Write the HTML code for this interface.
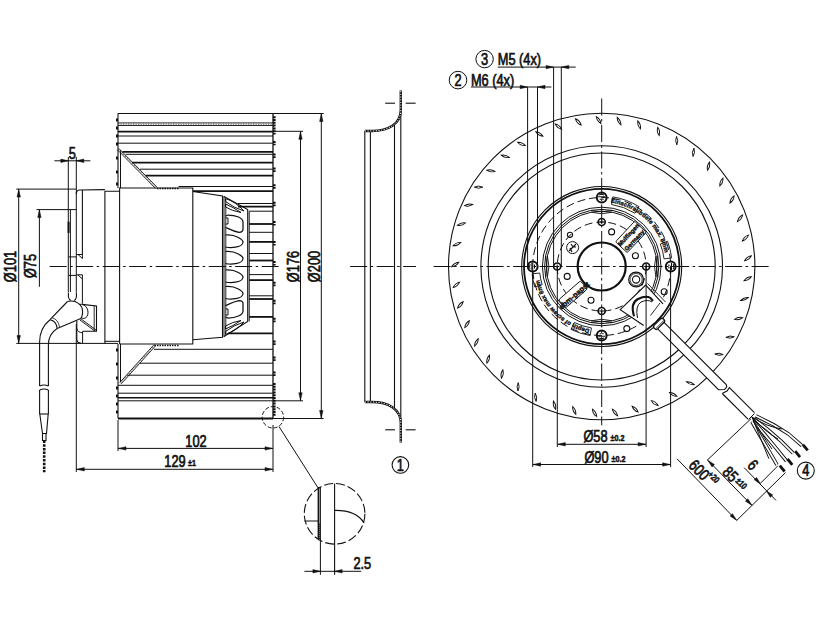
<!DOCTYPE html>
<html><head><meta charset="utf-8"><style>
html,body{margin:0;padding:0;background:#fff;}
svg{display:block;}
text{font-family:"Liberation Sans",sans-serif;fill:#111;}
</style></head><body>
<svg width="816" height="624" viewBox="0 0 816 624">
<rect width="816" height="624" fill="#fff"/>
<line x1="49.70" y1="266.50" x2="282.00" y2="266.50" stroke="#111" stroke-width="1.0" stroke-dasharray="17 3.5 2.5 3.5"/>
<line x1="118.00" y1="113.50" x2="273.00" y2="113.50" stroke="#111" stroke-width="1.1"/>
<line x1="118.00" y1="418.50" x2="273.00" y2="418.50" stroke="#111" stroke-width="1.8"/>
<line x1="118.00" y1="113.50" x2="118.00" y2="188.00" stroke="#111" stroke-width="1.1"/>
<line x1="118.00" y1="344.00" x2="118.00" y2="418.50" stroke="#111" stroke-width="1.1"/>
<line x1="273.00" y1="113.50" x2="273.00" y2="418.50" stroke="#111" stroke-width="1.3"/>
<line x1="118.00" y1="125.50" x2="273.00" y2="125.50" stroke="#111" stroke-width="0.9"/>
<line x1="118.00" y1="122.90" x2="273.00" y2="122.90" stroke="#111" stroke-width="0.9"/>
<line x1="118.00" y1="124.20" x2="273.00" y2="124.20" stroke="#555" stroke-width="1.0" stroke-dasharray="1.2 1.3"/>
<line x1="118.00" y1="131.70" x2="273.00" y2="131.70" stroke="#111" stroke-width="1.8"/>
<line x1="118.00" y1="136.00" x2="273.00" y2="136.00" stroke="#111" stroke-width="1"/>
<line x1="118.00" y1="143.20" x2="273.00" y2="143.20" stroke="#111" stroke-width="1"/>
<line x1="122.40" y1="151.90" x2="273.00" y2="151.90" stroke="#111" stroke-width="1.8"/>
<line x1="125.60" y1="154.30" x2="273.00" y2="154.30" stroke="#111" stroke-width="1"/>
<line x1="132.00" y1="162.70" x2="273.00" y2="162.70" stroke="#111" stroke-width="1.8"/>
<line x1="140.00" y1="169.20" x2="273.00" y2="169.20" stroke="#111" stroke-width="1"/>
<line x1="145.70" y1="175.70" x2="273.00" y2="175.70" stroke="#111" stroke-width="1.8"/>
<line x1="178.50" y1="186.50" x2="273.00" y2="186.50" stroke="#111" stroke-width="1"/>
<line x1="193.00" y1="191.10" x2="273.00" y2="191.10" stroke="#111" stroke-width="1.8"/>
<line x1="238.00" y1="203.50" x2="273.00" y2="203.50" stroke="#111" stroke-width="1"/>
<line x1="238.00" y1="206.70" x2="273.00" y2="206.70" stroke="#111" stroke-width="1.8"/>
<line x1="249.20" y1="211.20" x2="273.00" y2="211.20" stroke="#111" stroke-width="1"/>
<line x1="249.20" y1="224.00" x2="273.00" y2="224.00" stroke="#111" stroke-width="1.8"/>
<line x1="249.20" y1="232.30" x2="273.00" y2="232.30" stroke="#111" stroke-width="1"/>
<line x1="249.20" y1="241.90" x2="273.00" y2="241.90" stroke="#111" stroke-width="1.8"/>
<line x1="249.20" y1="253.50" x2="273.00" y2="253.50" stroke="#111" stroke-width="1"/>
<line x1="249.20" y1="260.50" x2="273.00" y2="260.50" stroke="#111" stroke-width="1.8"/>
<line x1="249.20" y1="274.60" x2="273.00" y2="274.60" stroke="#111" stroke-width="1"/>
<line x1="249.20" y1="280.10" x2="273.00" y2="280.10" stroke="#111" stroke-width="1.8"/>
<line x1="249.20" y1="295.80" x2="273.00" y2="295.80" stroke="#111" stroke-width="1"/>
<line x1="249.20" y1="299.00" x2="273.00" y2="299.00" stroke="#111" stroke-width="1.8"/>
<line x1="249.20" y1="316.90" x2="273.00" y2="316.90" stroke="#111" stroke-width="1.8"/>
<line x1="228.00" y1="333.30" x2="273.00" y2="333.30" stroke="#111" stroke-width="1.8"/>
<line x1="154.00" y1="349.30" x2="273.00" y2="349.30" stroke="#111" stroke-width="1"/>
<line x1="140.00" y1="363.20" x2="273.00" y2="363.20" stroke="#111" stroke-width="1"/>
<line x1="127.00" y1="375.20" x2="273.00" y2="375.20" stroke="#111" stroke-width="1"/>
<line x1="118.00" y1="385.30" x2="273.00" y2="385.30" stroke="#111" stroke-width="1"/>
<line x1="118.00" y1="393.20" x2="273.00" y2="393.20" stroke="#111" stroke-width="1"/>
<line x1="118.00" y1="397.70" x2="273.00" y2="397.70" stroke="#111" stroke-width="1.5"/>
<line x1="118.00" y1="400.80" x2="273.00" y2="400.80" stroke="#111" stroke-width="1"/>
<line x1="120.50" y1="150.00" x2="120.50" y2="188.00" stroke="#111" stroke-width="1"/>
<line x1="120.50" y1="344.00" x2="120.50" y2="382.00" stroke="#111" stroke-width="1"/>
<line x1="117.32" y1="149.67" x2="155.62" y2="188.47" stroke="#111" stroke-width="0.9"/>
<line x1="118.68" y1="148.33" x2="156.98" y2="187.13" stroke="#111" stroke-width="0.9"/>
<line x1="118.00" y1="149.00" x2="156.30" y2="187.80" stroke="#555" stroke-width="1.0" stroke-dasharray="1.2 1.3"/>
<line x1="121.21" y1="383.84" x2="155.51" y2="345.84" stroke="#111" stroke-width="0.9"/>
<line x1="119.79" y1="382.56" x2="154.09" y2="344.56" stroke="#111" stroke-width="0.9"/>
<line x1="120.50" y1="383.20" x2="154.80" y2="345.20" stroke="#555" stroke-width="1.0" stroke-dasharray="1.2 1.3"/>
<line x1="157.00" y1="188.50" x2="178.50" y2="188.50" stroke="#111" stroke-width="1.5" stroke-dasharray="1.5 1"/>
<line x1="154.50" y1="345.50" x2="178.50" y2="345.50" stroke="#111" stroke-width="1.5" stroke-dasharray="1.5 1"/>
<line x1="274.30" y1="140.90" x2="274.30" y2="145.30" stroke="#111" stroke-width="2.6" stroke-dasharray="2 0.8"/>
<line x1="274.30" y1="153.50" x2="274.30" y2="157.90" stroke="#111" stroke-width="2.6" stroke-dasharray="2 0.8"/>
<line x1="274.30" y1="167.50" x2="274.30" y2="171.90" stroke="#111" stroke-width="2.6" stroke-dasharray="2 0.8"/>
<line x1="274.30" y1="184.30" x2="274.30" y2="188.70" stroke="#111" stroke-width="2.6" stroke-dasharray="2 0.8"/>
<line x1="274.30" y1="201.80" x2="274.30" y2="206.20" stroke="#111" stroke-width="2.6" stroke-dasharray="2 0.8"/>
<line x1="274.30" y1="221.10" x2="274.30" y2="225.50" stroke="#111" stroke-width="2.6" stroke-dasharray="2 0.8"/>
<line x1="274.30" y1="241.10" x2="274.30" y2="245.50" stroke="#111" stroke-width="2.6" stroke-dasharray="2 0.8"/>
<line x1="274.30" y1="261.10" x2="274.30" y2="265.50" stroke="#111" stroke-width="2.6" stroke-dasharray="2 0.8"/>
<line x1="274.30" y1="281.80" x2="274.30" y2="286.20" stroke="#111" stroke-width="2.6" stroke-dasharray="2 0.8"/>
<line x1="274.30" y1="299.80" x2="274.30" y2="304.20" stroke="#111" stroke-width="2.6" stroke-dasharray="2 0.8"/>
<line x1="274.30" y1="317.80" x2="274.30" y2="322.20" stroke="#111" stroke-width="2.6" stroke-dasharray="2 0.8"/>
<line x1="274.30" y1="340.50" x2="274.30" y2="344.90" stroke="#111" stroke-width="2.6" stroke-dasharray="2 0.8"/>
<line x1="274.30" y1="356.50" x2="274.30" y2="360.90" stroke="#111" stroke-width="2.6" stroke-dasharray="2 0.8"/>
<line x1="274.30" y1="371.50" x2="274.30" y2="375.90" stroke="#111" stroke-width="2.6" stroke-dasharray="2 0.8"/>
<line x1="274.30" y1="116.20" x2="274.30" y2="134.60" stroke="#111" stroke-width="2.6" stroke-dasharray="2 0.8"/>
<line x1="274.30" y1="383.00" x2="274.30" y2="416.40" stroke="#111" stroke-width="2.6" stroke-dasharray="2 0.8"/>
<rect x="116" y="118.5" width="2" height="3" fill="#111"/>
<rect x="116" y="126.5" width="2" height="3" fill="#111"/>
<rect x="116" y="134.5" width="2" height="3" fill="#111"/>
<rect x="116" y="142.5" width="2" height="3" fill="#111"/>
<rect x="116" y="156.5" width="2" height="3" fill="#111"/>
<rect x="116" y="170.5" width="2" height="3" fill="#111"/>
<rect x="116" y="182.5" width="2" height="3" fill="#111"/>
<rect x="116" y="348.5" width="2" height="3" fill="#111"/>
<rect x="116" y="362.5" width="2" height="3" fill="#111"/>
<rect x="116" y="376.5" width="2" height="3" fill="#111"/>
<rect x="116" y="386.5" width="2" height="3" fill="#111"/>
<rect x="116" y="394.5" width="2" height="3" fill="#111"/>
<rect x="116" y="402.5" width="2" height="3" fill="#111"/>
<rect x="116" y="410.5" width="2" height="3" fill="#111"/>
<polyline points="119.60,344.00 119.60,188.00 192.80,188.00 192.80,344.00 119.60,344.00" fill="none" stroke="#111" stroke-width="1.1"/>
<polyline points="104.90,343.40 104.90,191.20 119.60,191.20" fill="none" stroke="#111" stroke-width="1.1"/>
<line x1="104.90" y1="341.30" x2="119.60" y2="341.30" stroke="#111" stroke-width="1"/>
<polyline points="192.80,191.50 222.50,196.00 222.50,337.30 192.80,339.70" fill="none" stroke="#111" stroke-width="1.1"/>
<line x1="224.00" y1="196.00" x2="224.00" y2="337.00" stroke="#111" stroke-width="1"/>
<polyline points="224.00,196.40 247.70,209.60 247.70,321.40 224.00,336.50" fill="none" stroke="#111" stroke-width="1.1"/>
<line x1="249.20" y1="211.20" x2="249.20" y2="321.40" stroke="#111" stroke-width="1"/>
<path d="M225.5,216 L228,215 C236,215 243,218 243,222 L243,229.3 Q243,232.3 239,232.3 C233,231.3 228,228.3 225.5,227.3" fill="none" stroke="#111" stroke-width="1.25" />
<path d="M225.5,218 L228,218 L228,224 L225.5,224" fill="none" stroke="#111" stroke-width="1" />
<path d="M225.5,235.0 C236,234.0 243.5,240.0 243,242.5 C242,248.0 230,248.0 225.5,247.0" fill="none" stroke="#111" stroke-width="1.25" />
<path d="M225.5,251.5 C236,250.5 243.5,256.5 243,259.0 C242,264.5 230,264.5 225.5,263.5" fill="none" stroke="#111" stroke-width="1.25" />
<path d="M225.5,270.0 C236,269.0 243.5,275.0 243,277.5 C242,283.0 230,283.0 225.5,282.0" fill="none" stroke="#111" stroke-width="1.25" />
<path d="M225.5,286.5 C236,285.5 243.5,291.5 243,294.0 C242,299.5 230,299.5 225.5,298.5" fill="none" stroke="#111" stroke-width="1.25" />
<path d="M225.5,317 L228,318 C236,318 243,315 243,311 L243,303.7 Q243,300.7 239,300.7 C233,301.7 228,304.7 225.5,305.7" fill="none" stroke="#111" stroke-width="1.25" />
<path d="M225.5,315 L228,315 L228,309 L225.5,309" fill="none" stroke="#111" stroke-width="1" />
<line x1="225.80" y1="199.00" x2="225.80" y2="334.00" stroke="#111" stroke-width="0.9"/>
<path d="M225.5,198.5 Q236,202 244,211 Q234,208 225.5,201.5 Z" fill="none" stroke="#111" stroke-width="1.0" />
<path d="M225.5,204 Q233,207 241,212.5 Q232,211 225.5,207 Z" fill="none" stroke="#111" stroke-width="1.0" />
<path d="M225.5,334.5 Q236,331 244,322 Q234,325 225.5,331.5 Z" fill="none" stroke="#111" stroke-width="1.0" />
<path d="M225.5,329 Q233,326 241,320.5 Q232,322 225.5,326 Z" fill="none" stroke="#111" stroke-width="1.0" />
<line x1="68.30" y1="157.00" x2="68.30" y2="292.00" stroke="#111" stroke-width="1"/>
<line x1="76.30" y1="157.00" x2="76.30" y2="292.40" stroke="#111" stroke-width="1"/>
<line x1="76.30" y1="324.00" x2="76.30" y2="472.00" stroke="#111" stroke-width="1"/>
<line x1="70.40" y1="209.60" x2="70.40" y2="292.00" stroke="#111" stroke-width="1"/>
<line x1="68.60" y1="221.70" x2="68.60" y2="232.90" stroke="#111" stroke-width="2"/>
<path d="M76.3,194 Q76.3,190 80,190 L104.9,189.6" fill="none" stroke="#111" stroke-width="1.2" />
<line x1="82.40" y1="190.00" x2="82.40" y2="254.50" stroke="#111" stroke-width="1.1"/>
<polyline points="76.30,254.50 82.40,254.50 82.40,258.50" fill="none" stroke="#111" stroke-width="1"/>
<line x1="68.30" y1="256.90" x2="76.30" y2="256.90" stroke="#111" stroke-width="1"/>
<line x1="68.30" y1="275.40" x2="76.30" y2="275.40" stroke="#111" stroke-width="1"/>
<polyline points="76.30,274.80 82.40,274.80 82.40,303.70" fill="none" stroke="#111" stroke-width="1"/>
<polyline points="82.40,279.00 78.00,275.00" fill="none" stroke="#111" stroke-width="1"/>
<polyline points="82.40,258.50 78.00,254.50" fill="none" stroke="#111" stroke-width="1"/>
<polyline points="82.00,304.40 96.50,305.90 96.50,331.30 82.60,331.30" fill="none" stroke="#111" stroke-width="1.1"/>
<line x1="94.20" y1="306.00" x2="94.20" y2="331.30" stroke="#111" stroke-width="0.9"/>
<line x1="80.03" y1="320.15" x2="95.03" y2="331.15" stroke="#111" stroke-width="0.9"/>
<line x1="80.97" y1="318.85" x2="95.97" y2="329.85" stroke="#111" stroke-width="0.9"/>
<line x1="80.50" y1="319.50" x2="95.50" y2="330.50" stroke="#555" stroke-width="1.0" stroke-dasharray="1.2 1.3"/>
<path d="M76.8,321 L76.8,339 Q76.8,343 81,343.2" fill="none" stroke="#111" stroke-width="1.1" />
<path d="M76.8,328.5 Q77.5,332.5 82.6,332.8" fill="none" stroke="#111" stroke-width="1.0" />
<line x1="82.60" y1="331.30" x2="82.60" y2="343.20" stroke="#111" stroke-width="1.0"/>
<path d="M68.4,292.4 L68.4,297 Q69,300 71,300.5 M76.4,292.4 L76.4,297 Q76,300 74,300.5" fill="none" stroke="#111" stroke-width="1.1" />
<path d="M67.5,301.5 L50,319.7 M80.2,318.8 L57.2,328.5" fill="none" stroke="#111" stroke-width="1.1" />
<path d="M67.5,301.5 C76,299.5 83,305 82.6,312 C82.4,316 81.5,318 80.2,318.8" fill="none" stroke="#111" stroke-width="1.1" />
<path d="M79.2,304.4 C86,303 90,311 87,316.5 C85.5,318.5 83,318.8 81.5,318" fill="none" stroke="#111" stroke-width="1.0" />
<path d="M50,319.7 Q56.5,321 57.2,328.5" fill="none" stroke="#111" stroke-width="1.1" />
<path d="M52,317.7 Q58.5,319.5 59.5,327.3" fill="none" stroke="#111" stroke-width="0.8" />
<path d="M50,319.7 Q39.6,328 39.6,342 L39.6,386" fill="none" stroke="#111" stroke-width="1.1" />
<path d="M57.2,328.5 Q48.4,334 48.4,345 L48.4,386" fill="none" stroke="#111" stroke-width="1.1" />
<path d="M39.6,386 Q44,384 48.4,386 M39.6,390 Q44,388 48.4,390" fill="none" stroke="#111" stroke-width="1.1" />
<line x1="39.60" y1="390.00" x2="39.60" y2="414.00" stroke="#111" stroke-width="1.1"/>
<line x1="48.40" y1="390.00" x2="48.40" y2="414.00" stroke="#111" stroke-width="1.1"/>
<polyline points="39.60,414.00 48.40,414.00" fill="none" stroke="#111" stroke-width="1.1"/>
<polyline points="39.80,414.00 42.50,433.50 46.50,433.50 48.20,414.00" fill="none" stroke="#111" stroke-width="1.1"/>
<polyline points="42.50,433.50 42.50,440.50 46.00,440.50 46.00,433.50" fill="none" stroke="#111" stroke-width="1.1"/>
<line x1="44.20" y1="440.50" x2="44.20" y2="472.30" stroke="#111" stroke-width="2.6" stroke-dasharray="2.5 1.2"/>
<line x1="16.30" y1="189.10" x2="76.30" y2="189.10" stroke="#111" stroke-width="1"/>
<line x1="16.30" y1="343.40" x2="118.00" y2="343.40" stroke="#111" stroke-width="1"/>
<line x1="18.70" y1="189.10" x2="18.70" y2="343.40" stroke="#111" stroke-width="1"/>
<polygon points="18.70,189.60 20.40,197.10 17.00,197.10" fill="#111" stroke="#111" stroke-width="0.5"/>
<polygon points="18.70,343.00 17.00,335.50 20.40,335.50" fill="#111" stroke="#111" stroke-width="0.5"/>
<line x1="36.50" y1="209.60" x2="76.30" y2="209.60" stroke="#111" stroke-width="1"/>
<line x1="39.40" y1="209.60" x2="39.40" y2="286.80" stroke="#111" stroke-width="1"/>
<polygon points="39.40,210.00 41.10,217.50 37.70,217.50" fill="#111" stroke="#111" stroke-width="0.5"/>
<text transform="translate(15.50,266.50) rotate(-90) scale(0.8,1)" font-size="16" text-anchor="middle" font-weight="normal" stroke="#111" stroke-width="0.7">Ø101</text>
<text transform="translate(36.00,266.00) rotate(-90) scale(0.8,1)" font-size="16" text-anchor="middle" font-weight="normal" stroke="#111" stroke-width="0.7">Ø75</text>
<line x1="54.40" y1="160.80" x2="90.40" y2="160.80" stroke="#111" stroke-width="1"/>
<polygon points="68.30,160.80 60.80,162.50 60.80,159.10" fill="#111" stroke="#111" stroke-width="0.5"/>
<polygon points="76.30,160.80 83.80,159.10 83.80,162.50" fill="#111" stroke="#111" stroke-width="0.5"/>
<text transform="translate(72.30,158.50) scale(0.8,1)" font-size="16" text-anchor="middle" font-weight="normal" stroke="#111" stroke-width="0.7">5</text>
<line x1="118.00" y1="420.00" x2="118.00" y2="451.00" stroke="#111" stroke-width="1"/>
<line x1="118.00" y1="448.40" x2="273.00" y2="448.40" stroke="#111" stroke-width="1"/>
<polygon points="118.50,448.40 126.00,446.70 126.00,450.10" fill="#111" stroke="#111" stroke-width="0.5"/>
<polygon points="272.50,448.40 265.00,450.10 265.00,446.70" fill="#111" stroke="#111" stroke-width="0.5"/>
<text transform="translate(196.00,446.70) scale(0.8,1)" font-size="16" text-anchor="middle" font-weight="normal" stroke="#111" stroke-width="0.7">102</text>
<line x1="273.00" y1="425.00" x2="273.00" y2="472.00" stroke="#111" stroke-width="1"/>
<line x1="76.30" y1="469.30" x2="273.00" y2="469.30" stroke="#111" stroke-width="1"/>
<polygon points="76.80,469.30 84.30,467.60 84.30,471.00" fill="#111" stroke="#111" stroke-width="0.5"/>
<polygon points="272.50,469.30 265.00,471.00 265.00,467.60" fill="#111" stroke="#111" stroke-width="0.5"/>
<text transform="translate(175.00,467.20) scale(0.8,1)" font-size="16" text-anchor="middle" font-weight="normal" stroke="#111" stroke-width="0.7">129</text>
<text transform="translate(192.00,466.30) scale(0.8,1)" font-size="9" text-anchor="middle" font-weight="bold" stroke="#111" stroke-width="0.5">±1</text>
<line x1="273.00" y1="131.30" x2="303.00" y2="131.30" stroke="#111" stroke-width="1"/>
<line x1="273.00" y1="400.80" x2="303.00" y2="400.80" stroke="#111" stroke-width="1"/>
<line x1="300.50" y1="131.30" x2="300.50" y2="400.80" stroke="#111" stroke-width="1"/>
<polygon points="300.50,131.80 302.20,139.30 298.80,139.30" fill="#111" stroke="#111" stroke-width="0.5"/>
<polygon points="300.50,400.30 298.80,392.80 302.20,392.80" fill="#111" stroke="#111" stroke-width="0.5"/>
<text transform="translate(299.00,266.50) rotate(-90) scale(0.8,1)" font-size="16" text-anchor="middle" font-weight="normal" stroke="#111" stroke-width="0.7">Ø176</text>
<line x1="273.00" y1="113.50" x2="323.60" y2="113.50" stroke="#111" stroke-width="1"/>
<line x1="273.00" y1="418.50" x2="323.60" y2="418.50" stroke="#111" stroke-width="1"/>
<line x1="321.30" y1="113.50" x2="321.30" y2="418.50" stroke="#111" stroke-width="1"/>
<polygon points="321.30,114.00 323.00,121.50 319.60,121.50" fill="#111" stroke="#111" stroke-width="0.5"/>
<polygon points="321.30,418.00 319.60,410.50 323.00,410.50" fill="#111" stroke="#111" stroke-width="0.5"/>
<text transform="translate(319.70,266.50) rotate(-90) scale(0.8,1)" font-size="16" text-anchor="middle" font-weight="normal" stroke="#111" stroke-width="0.7">Ø200</text>
<circle cx="272.90" cy="417.30" r="10.70" fill="none" stroke="#111" stroke-width="1" stroke-dasharray="4 2"/>
<line x1="279.00" y1="426.50" x2="317.90" y2="487.70" stroke="#111" stroke-width="1"/>
<circle cx="334.60" cy="513.80" r="30.30" fill="none" stroke="#111" stroke-width="1.1" stroke-dasharray="9 3"/>
<line x1="334.60" y1="483.50" x2="334.60" y2="574.80" stroke="#111" stroke-width="1.1"/>
<line x1="318.50" y1="487.00" x2="318.50" y2="539.00" stroke="#111" stroke-width="1.8"/>
<line x1="320.40" y1="487.00" x2="320.40" y2="574.80" stroke="#111" stroke-width="1"/>
<line x1="319.50" y1="523.80" x2="319.50" y2="539.00" stroke="#111" stroke-width="2" stroke-dasharray="1 1"/>
<line x1="304.40" y1="521.00" x2="318.50" y2="521.00" stroke="#111" stroke-width="1"/>
<path d="M334.6,510.4 Q356,510 364,522.9" fill="none" stroke="#111" stroke-width="1.1" />
<line x1="304.40" y1="571.30" x2="361.20" y2="571.30" stroke="#111" stroke-width="1"/>
<polygon points="320.40,571.30 312.90,573.00 312.90,569.60" fill="#111" stroke="#111" stroke-width="0.5"/>
<polygon points="334.60,571.30 342.10,569.60 342.10,573.00" fill="#111" stroke="#111" stroke-width="0.5"/>
<text transform="translate(362.30,568.50) scale(0.8,1)" font-size="16" text-anchor="middle" font-weight="normal" stroke="#111" stroke-width="0.7">2.5</text>
<line x1="350.20" y1="266.50" x2="416.00" y2="266.50" stroke="#111" stroke-width="1.0" stroke-dasharray="17 3.5 2.5 3.5"/>
<line x1="364.80" y1="131.00" x2="364.80" y2="402.00" stroke="#111" stroke-width="1.1"/>
<line x1="370.40" y1="132.00" x2="370.40" y2="401.00" stroke="#111" stroke-width="1.1"/>
<line x1="394.50" y1="124.00" x2="394.50" y2="409.00" stroke="#111" stroke-width="1.1"/>
<line x1="400.80" y1="108.00" x2="400.80" y2="425.00" stroke="#111" stroke-width="1.1"/>
<path d="M364.8,131.00 L372,131.00 C388,131.00 400.8,124.00 400.8,110.00 L400.8,90.40" fill="none" stroke="#111" stroke-width="2.4" />
<path d="M364.8,131.00 L372,131.00 C388,131.00 400.8,124.00 400.8,110.00 L400.8,90.40" fill="none" stroke="#fff" stroke-width="1.0" stroke-dasharray="1.2 1.5" />
<line x1="385.20" y1="103.20" x2="395.00" y2="103.20" stroke="#111" stroke-width="1.1"/>
<line x1="405.70" y1="103.20" x2="415.60" y2="103.20" stroke="#111" stroke-width="1.1"/>
<path d="M364.8,402.00 L372,402.00 C388,402.00 400.8,409.00 400.8,423.00 L400.8,442.60" fill="none" stroke="#111" stroke-width="2.4" />
<path d="M364.8,402.00 L372,402.00 C388,402.00 400.8,409.00 400.8,423.00 L400.8,442.60" fill="none" stroke="#fff" stroke-width="1.0" stroke-dasharray="1.2 1.5" />
<line x1="385.20" y1="429.80" x2="395.00" y2="429.80" stroke="#111" stroke-width="1.1"/>
<line x1="405.70" y1="429.80" x2="415.60" y2="429.80" stroke="#111" stroke-width="1.1"/>
<circle cx="400.40" cy="464.90" r="8.30" fill="none" stroke="#111" stroke-width="1.1"/>
<text transform="translate(400.40,470.60) scale(0.8,1)" font-size="16" text-anchor="middle" font-weight="normal" stroke="#111" stroke-width="0.7">1</text>
<line x1="433.60" y1="266.50" x2="770.00" y2="266.50" stroke="#111" stroke-width="1.0" stroke-dasharray="17 3.5 2.5 3.5"/>
<line x1="601.70" y1="98.50" x2="601.70" y2="425.30" stroke="#111" stroke-width="1.0" stroke-dasharray="17 3.5 2.5 3.5"/>
<circle cx="601.70" cy="266.50" r="153.20" fill="none" stroke="#111" stroke-width="1.1"/>
<circle cx="601.70" cy="266.50" r="120.80" fill="none" stroke="#111" stroke-width="1.1"/>
<circle cx="601.70" cy="266.50" r="113.50" fill="none" stroke="#111" stroke-width="1.1"/>
<circle cx="601.70" cy="266.50" r="80.00" fill="none" stroke="#111" stroke-width="1.1"/>
<circle cx="601.70" cy="266.50" r="77.70" fill="none" stroke="#111" stroke-width="1.8"/>
<circle cx="601.70" cy="266.50" r="69.00" fill="none" stroke="#111" stroke-width="1" stroke-dasharray="8 4"/>
<circle cx="601.70" cy="266.50" r="59.30" fill="none" stroke="#111" stroke-width="1"/>
<circle cx="601.70" cy="266.50" r="57.10" fill="none" stroke="#111" stroke-width="1"/>
<circle cx="601.70" cy="266.50" r="55.30" fill="none" stroke="#111" stroke-width="1"/>
<circle cx="601.70" cy="266.50" r="44.50" fill="none" stroke="#111" stroke-width="1" stroke-dasharray="8 4"/>
<path d="M655.98,255.95 Q653.00,266.50 655.98,277.05" fill="none" stroke="#111" stroke-width="0.9" />
<path d="M657.75,255.60 Q655.00,266.50 657.75,277.40" fill="none" stroke="#111" stroke-width="0.9" />
<path d="M612.25,320.78 Q601.70,317.80 591.15,320.78" fill="none" stroke="#111" stroke-width="0.9" />
<path d="M612.60,322.55 Q601.70,319.80 590.80,322.55" fill="none" stroke="#111" stroke-width="0.9" />
<path d="M547.42,277.05 Q550.40,266.50 547.42,255.95" fill="none" stroke="#111" stroke-width="0.9" />
<path d="M545.65,277.40 Q548.40,266.50 545.65,255.60" fill="none" stroke="#111" stroke-width="0.9" />
<path d="M591.15,212.22 Q601.70,215.20 612.25,212.22" fill="none" stroke="#111" stroke-width="0.9" />
<path d="M590.80,210.45 Q601.70,213.20 612.60,210.45" fill="none" stroke="#111" stroke-width="0.9" />
<circle cx="601.70" cy="266.50" r="24.00" fill="none" stroke="#111" stroke-width="2.2"/>
<path d="M-4.2,0 Q0,-2.1 4.2,0 Q0,2.1 -4.2,0 Z" transform="translate(619.05,121.03) rotate(-116.2)" fill="#fff" stroke="#111" stroke-width="0.95"/>
<path d="M-4.2,0 Q0,-2.1 4.2,0 Q0,2.1 -4.2,0 Z" transform="translate(639.12,124.86) rotate(-108.2)" fill="#fff" stroke="#111" stroke-width="0.95"/>
<path d="M-4.2,0 Q0,-2.1 4.2,0 Q0,2.1 -4.2,0 Z" transform="translate(658.47,131.45) rotate(-100.2)" fill="#fff" stroke="#111" stroke-width="0.95"/>
<path d="M-4.2,0 Q0,-2.1 4.2,0 Q0,2.1 -4.2,0 Z" transform="translate(676.71,140.66) rotate(-92.2)" fill="#fff" stroke="#111" stroke-width="0.95"/>
<path d="M-4.2,0 Q0,-2.1 4.2,0 Q0,2.1 -4.2,0 Z" transform="translate(693.50,152.33) rotate(-84.2)" fill="#fff" stroke="#111" stroke-width="0.95"/>
<path d="M-4.2,0 Q0,-2.1 4.2,0 Q0,2.1 -4.2,0 Z" transform="translate(708.49,166.21) rotate(-76.2)" fill="#fff" stroke="#111" stroke-width="0.95"/>
<path d="M-4.2,0 Q0,-2.1 4.2,0 Q0,2.1 -4.2,0 Z" transform="translate(721.41,182.05) rotate(-68.2)" fill="#fff" stroke="#111" stroke-width="0.95"/>
<path d="M-4.2,0 Q0,-2.1 4.2,0 Q0,2.1 -4.2,0 Z" transform="translate(732.00,199.54) rotate(-60.2)" fill="#fff" stroke="#111" stroke-width="0.95"/>
<path d="M-4.2,0 Q0,-2.1 4.2,0 Q0,2.1 -4.2,0 Z" transform="translate(740.05,218.32) rotate(-52.2)" fill="#fff" stroke="#111" stroke-width="0.95"/>
<path d="M-4.2,0 Q0,-2.1 4.2,0 Q0,2.1 -4.2,0 Z" transform="translate(745.41,238.04) rotate(-44.2)" fill="#fff" stroke="#111" stroke-width="0.95"/>
<path d="M-4.2,0 Q0,-2.1 4.2,0 Q0,2.1 -4.2,0 Z" transform="translate(747.97,258.32) rotate(-36.2)" fill="#fff" stroke="#111" stroke-width="0.95"/>
<path d="M-4.2,0 Q0,-2.1 4.2,0 Q0,2.1 -4.2,0 Z" transform="translate(747.69,278.76) rotate(-28.2)" fill="#fff" stroke="#111" stroke-width="0.95"/>
<path d="M-4.2,0 Q0,-2.1 4.2,0 Q0,2.1 -4.2,0 Z" transform="translate(744.56,298.96) rotate(-20.2)" fill="#fff" stroke="#111" stroke-width="0.95"/>
<path d="M-4.2,0 Q0,-2.1 4.2,0 Q0,2.1 -4.2,0 Z" transform="translate(738.65,318.52) rotate(-12.2)" fill="#fff" stroke="#111" stroke-width="0.95"/>
<path d="M-4.2,0 Q0,-2.1 4.2,0 Q0,2.1 -4.2,0 Z" transform="translate(730.08,337.08) rotate(-4.2)" fill="#fff" stroke="#111" stroke-width="0.95"/>
<path d="M-4.2,0 Q0,-2.1 4.2,0 Q0,2.1 -4.2,0 Z" transform="translate(719.01,354.26) rotate(3.8)" fill="#fff" stroke="#111" stroke-width="0.95"/>
<path d="M-4.2,0 Q0,-2.1 4.2,0 Q0,2.1 -4.2,0 Z" transform="translate(705.65,369.73) rotate(11.8)" fill="#fff" stroke="#111" stroke-width="0.95"/>
<path d="M-4.2,0 Q0,-2.1 4.2,0 Q0,2.1 -4.2,0 Z" transform="translate(690.27,383.19) rotate(19.8)" fill="#fff" stroke="#111" stroke-width="0.95"/>
<path d="M-4.2,0 Q0,-2.1 4.2,0 Q0,2.1 -4.2,0 Z" transform="translate(673.17,394.38) rotate(27.8)" fill="#fff" stroke="#111" stroke-width="0.95"/>
<path d="M-4.2,0 Q0,-2.1 4.2,0 Q0,2.1 -4.2,0 Z" transform="translate(654.68,403.09) rotate(35.8)" fill="#fff" stroke="#111" stroke-width="0.95"/>
<path d="M-4.2,0 Q0,-2.1 4.2,0 Q0,2.1 -4.2,0 Z" transform="translate(635.15,409.13) rotate(43.8)" fill="#fff" stroke="#111" stroke-width="0.95"/>
<path d="M-4.2,0 Q0,-2.1 4.2,0 Q0,2.1 -4.2,0 Z" transform="translate(614.98,412.40) rotate(51.8)" fill="#fff" stroke="#111" stroke-width="0.95"/>
<path d="M-4.2,0 Q0,-2.1 4.2,0 Q0,2.1 -4.2,0 Z" transform="translate(594.54,412.83) rotate(59.8)" fill="#fff" stroke="#111" stroke-width="0.95"/>
<path d="M-4.2,0 Q0,-2.1 4.2,0 Q0,2.1 -4.2,0 Z" transform="translate(574.25,410.41) rotate(67.8)" fill="#fff" stroke="#111" stroke-width="0.95"/>
<path d="M-4.2,0 Q0,-2.1 4.2,0 Q0,2.1 -4.2,0 Z" transform="translate(554.49,405.18) rotate(75.8)" fill="#fff" stroke="#111" stroke-width="0.95"/>
<path d="M-4.2,0 Q0,-2.1 4.2,0 Q0,2.1 -4.2,0 Z" transform="translate(535.65,397.26) rotate(83.8)" fill="#fff" stroke="#111" stroke-width="0.95"/>
<path d="M-4.2,0 Q0,-2.1 4.2,0 Q0,2.1 -4.2,0 Z" transform="translate(518.09,386.80) rotate(91.8)" fill="#fff" stroke="#111" stroke-width="0.95"/>
<path d="M-4.2,0 Q0,-2.1 4.2,0 Q0,2.1 -4.2,0 Z" transform="translate(502.16,373.99) rotate(99.8)" fill="#fff" stroke="#111" stroke-width="0.95"/>
<path d="M-4.2,0 Q0,-2.1 4.2,0 Q0,2.1 -4.2,0 Z" transform="translate(488.17,359.09) rotate(107.8)" fill="#fff" stroke="#111" stroke-width="0.95"/>
<path d="M-4.2,0 Q0,-2.1 4.2,0 Q0,2.1 -4.2,0 Z" transform="translate(476.39,342.39) rotate(115.8)" fill="#fff" stroke="#111" stroke-width="0.95"/>
<path d="M-4.2,0 Q0,-2.1 4.2,0 Q0,2.1 -4.2,0 Z" transform="translate(467.05,324.21) rotate(123.8)" fill="#fff" stroke="#111" stroke-width="0.95"/>
<path d="M-4.2,0 Q0,-2.1 4.2,0 Q0,2.1 -4.2,0 Z" transform="translate(460.33,304.91) rotate(131.8)" fill="#fff" stroke="#111" stroke-width="0.95"/>
<path d="M-4.2,0 Q0,-2.1 4.2,0 Q0,2.1 -4.2,0 Z" transform="translate(456.36,284.86) rotate(139.8)" fill="#fff" stroke="#111" stroke-width="0.95"/>
<path d="M-4.2,0 Q0,-2.1 4.2,0 Q0,2.1 -4.2,0 Z" transform="translate(455.21,264.45) rotate(147.8)" fill="#fff" stroke="#111" stroke-width="0.95"/>
<path d="M-4.2,0 Q0,-2.1 4.2,0 Q0,2.1 -4.2,0 Z" transform="translate(456.92,244.09) rotate(155.8)" fill="#fff" stroke="#111" stroke-width="0.95"/>
<path d="M-4.2,0 Q0,-2.1 4.2,0 Q0,2.1 -4.2,0 Z" transform="translate(461.45,224.16) rotate(163.8)" fill="#fff" stroke="#111" stroke-width="0.95"/>
<path d="M-4.2,0 Q0,-2.1 4.2,0 Q0,2.1 -4.2,0 Z" transform="translate(468.71,205.05) rotate(171.8)" fill="#fff" stroke="#111" stroke-width="0.95"/>
<path d="M-4.2,0 Q0,-2.1 4.2,0 Q0,2.1 -4.2,0 Z" transform="translate(478.56,187.14) rotate(179.8)" fill="#fff" stroke="#111" stroke-width="0.95"/>
<path d="M-4.2,0 Q0,-2.1 4.2,0 Q0,2.1 -4.2,0 Z" transform="translate(490.80,170.77) rotate(187.8)" fill="#fff" stroke="#111" stroke-width="0.95"/>
<path d="M-4.2,0 Q0,-2.1 4.2,0 Q0,2.1 -4.2,0 Z" transform="translate(505.20,156.27) rotate(195.8)" fill="#fff" stroke="#111" stroke-width="0.95"/>
<path d="M-4.2,0 Q0,-2.1 4.2,0 Q0,2.1 -4.2,0 Z" transform="translate(521.48,143.91) rotate(203.8)" fill="#fff" stroke="#111" stroke-width="0.95"/>
<path d="M-4.2,0 Q0,-2.1 4.2,0 Q0,2.1 -4.2,0 Z" transform="translate(539.32,133.94) rotate(211.8)" fill="#fff" stroke="#111" stroke-width="0.95"/>
<path d="M-4.2,0 Q0,-2.1 4.2,0 Q0,2.1 -4.2,0 Z" transform="translate(558.38,126.55) rotate(219.8)" fill="#fff" stroke="#111" stroke-width="0.95"/>
<path d="M-4.2,0 Q0,-2.1 4.2,0 Q0,2.1 -4.2,0 Z" transform="translate(578.28,121.88) rotate(227.8)" fill="#fff" stroke="#111" stroke-width="0.95"/>
<path d="M-4.2,0 Q0,-2.1 4.2,0 Q0,2.1 -4.2,0 Z" transform="translate(598.63,120.03) rotate(235.8)" fill="#fff" stroke="#111" stroke-width="0.95"/>
<circle cx="670.70" cy="266.50" r="4.90" fill="none" stroke="#111" stroke-width="2.0"/>
<g transform="translate(670.70,266.50) rotate(-90)"><path d="M-3.5,0.8 L3.5,0.8 M-2.5,2.6 Q0,3.8 2.5,2.6 M-2,-1.8 L-0.5,-1.8 M0.5,-1.8 L2,-1.8" stroke="#111" stroke-width="1.1" fill="none"/></g>
<circle cx="646.20" cy="266.50" r="3.50" fill="none" stroke="#111" stroke-width="1.7"/>
<path d="M644.20,266.50 L648.20,266.50 M646.20,264.50 L646.20,268.50" stroke="#111" stroke-width="1" fill="none"/>
<circle cx="601.70" cy="335.50" r="4.90" fill="none" stroke="#111" stroke-width="2.0"/>
<g transform="translate(601.70,335.50) rotate(0)"><path d="M-3.5,0.8 L3.5,0.8 M-2.5,2.6 Q0,3.8 2.5,2.6 M-2,-1.8 L-0.5,-1.8 M0.5,-1.8 L2,-1.8" stroke="#111" stroke-width="1.1" fill="none"/></g>
<circle cx="601.70" cy="311.00" r="3.50" fill="none" stroke="#111" stroke-width="1.7"/>
<path d="M599.70,311.00 L603.70,311.00 M601.70,309.00 L601.70,313.00" stroke="#111" stroke-width="1" fill="none"/>
<circle cx="532.70" cy="266.50" r="4.90" fill="none" stroke="#111" stroke-width="2.0"/>
<g transform="translate(532.70,266.50) rotate(90)"><path d="M-3.5,0.8 L3.5,0.8 M-2.5,2.6 Q0,3.8 2.5,2.6 M-2,-1.8 L-0.5,-1.8 M0.5,-1.8 L2,-1.8" stroke="#111" stroke-width="1.1" fill="none"/></g>
<circle cx="557.20" cy="266.50" r="3.50" fill="none" stroke="#111" stroke-width="1.7"/>
<path d="M555.20,266.50 L559.20,266.50 M557.20,264.50 L557.20,268.50" stroke="#111" stroke-width="1" fill="none"/>
<circle cx="601.70" cy="197.50" r="4.90" fill="none" stroke="#111" stroke-width="2.0"/>
<g transform="translate(601.70,197.50) rotate(180)"><path d="M-3.5,0.8 L3.5,0.8 M-2.5,2.6 Q0,3.8 2.5,2.6 M-2,-1.8 L-0.5,-1.8 M0.5,-1.8 L2,-1.8" stroke="#111" stroke-width="1.1" fill="none"/></g>
<circle cx="601.70" cy="222.00" r="3.50" fill="none" stroke="#111" stroke-width="1.7"/>
<path d="M599.70,222.00 L603.70,222.00 M601.70,220.00 L601.70,224.00" stroke="#111" stroke-width="1" fill="none"/>
<circle cx="570.02" cy="234.82" r="2.60" fill="none" stroke="#111" stroke-width="1.1"/>
<circle cx="611.62" cy="231.89" r="3.00" fill="none" stroke="#111" stroke-width="1.1"/>
<circle cx="635.41" cy="255.68" r="3.00" fill="none" stroke="#111" stroke-width="1.1"/>
<circle cx="567.19" cy="276.40" r="3.00" fill="none" stroke="#111" stroke-width="1.1"/>
<circle cx="591.00" cy="300.24" r="3.00" fill="none" stroke="#111" stroke-width="1.1"/>
<circle cx="664.19" cy="291.75" r="3.00" fill="none" stroke="#111" stroke-width="1.1"/>
<circle cx="626.80" cy="328.62" r="3.00" fill="none" stroke="#111" stroke-width="1.1"/>
<circle cx="572.60" cy="247.60" r="6.00" fill="none" stroke="#111" stroke-width="1"/>
<path d="M569,251 L576,244 M571,244 L573,247 L576,247 M570,248 L572,252" fill="none" stroke="#111" stroke-width="1.2" />
<circle cx="636.10" cy="279.50" r="7.40" fill="none" stroke="#111" stroke-width="1.2"/>
<circle cx="636.10" cy="279.50" r="6.10" fill="none" stroke="#111" stroke-width="0.8"/>
<circle cx="636.10" cy="279.50" r="3.60" fill="none" stroke="#111" stroke-width="1.1"/>
<path id="lab1" d="M610.68,202.63 A64.5,64.5 0 0 1 665.57,257.52" fill="none" stroke="none"/>
<text font-size="6" font-weight="bold" stroke="#111" stroke-width="0.35" letter-spacing="0.1"><textPath href="#lab1">Einschraubtiefe  max.  8mm</textPath></text>
<path d="M612.73,196.87 A70.5,70.5 0 0 1 639.06,206.71 L634.98,213.24 A62.8,62.8 0 0 0 611.52,204.47 Z" fill="none" stroke="#111" stroke-width="0.9" />
<path d="M667.52,241.24 A70.5,70.5 0 0 1 671.67,257.91 L664.03,258.85 A62.8,62.8 0 0 0 660.33,243.99 Z" fill="none" stroke="#111" stroke-width="0.9" />
<path id="lab2" d="M589.53,329.13 A63.8,63.8 0 0 1 538.52,275.38" fill="none" stroke="none"/>
<text font-size="6" font-weight="bold" stroke="#111" stroke-width="0.35" letter-spacing="0.1"><textPath href="#lab2">Depth  of  screw  max  8mm</textPath></text>
<path d="M534.76,286.97 A70,70 0 0 1 532.08,273.82 L539.74,273.01 A62.3,62.3 0 0 0 542.12,284.71 Z" fill="none" stroke="#111" stroke-width="0.9" />
<path d="M590.15,335.54 A70,70 0 0 1 571.01,329.42 L574.39,322.49 A62.3,62.3 0 0 0 591.42,327.95 Z" fill="none" stroke="#111" stroke-width="0.9" />
<g transform="translate(630.90,237.00) rotate(-47)"><rect x="-14.0" y="-8.0" width="28" height="16" rx="1.5" fill="#fff" stroke="#111" stroke-width="0.9"/>
<text x="0" y="-1.20" font-size="6" text-anchor="middle" font-weight="bold" stroke="#111" stroke-width="0.4">Mulfingen</text>
<text x="0" y="6.80" font-size="6" text-anchor="middle" font-weight="bold" stroke="#111" stroke-width="0.4">Germany</text>
</g>
<g transform="translate(573.00,294.40) rotate(-41)"><rect x="-14.5" y="-5.35" width="29" height="10.7" rx="1.5" fill="#fff" stroke="#111" stroke-width="0.9"/>
<text x="0" y="4.15" font-size="7.5" text-anchor="middle" font-weight="bold" stroke="#111" stroke-width="0.4">ebm-papst</text>
</g>
<polygon points="620.2,309.6 645.7,285.1 664,303.5 655,322 643.7,325.5" fill="#fff" stroke="none"/>
<polyline points="643.70,325.50 620.20,309.60 645.70,285.10 663.00,303.80" fill="none" stroke="#111" stroke-width="1.1"/>
<line x1="647.50" y1="283.50" x2="665.50" y2="302.00" stroke="#111" stroke-width="0.9"/>
<path d="M634,316.3 Q630,303 638,299 Q646,295 650.5,298 L653,301" fill="none" stroke="#111" stroke-width="2" />
<path d="M637.5,318 Q635,306 641,302 Q648,299 652,302" fill="none" stroke="#111" stroke-width="1" />
<line x1="650.50" y1="315.50" x2="660.00" y2="303.00" stroke="#111" stroke-width="0.9"/>
<path d="M662.50,320.80 L726.2,384.50 L726.8,386.8 L724.5,389.5 L718.5,389.70 L655.7,326.90" fill="#fff" stroke="#111" stroke-width="1.1" />
<path d="M722.3,393.50 L725,392 L727,391 L729.4,387.70 L754.4,412.70 M722.3,393.50 L748,419.20" fill="none" stroke="#111" stroke-width="1.1" />
<g transform="translate(659.1,323.85) rotate(45)"><rect x="-2.5" y="-6.5" width="5" height="13" rx="2.2" fill="#fff" stroke="#111" stroke-width="1.3"/><line x1="1" y1="-6" x2="1" y2="6" stroke="#111" stroke-width="0.8"/></g>
<line x1="748.50" y1="419.50" x2="754.50" y2="413.50" stroke="#111" stroke-width="1.0"/>
<path d="M755.8,415.8 L773,424.4 L788.5,434 L801.9,445.6" fill="none" stroke="#111" stroke-width="3.6" stroke-linejoin="round"/>
<path d="M755.8,415.8 L773,424.4 L788.5,434 L801.9,445.6" fill="none" stroke="#fff" stroke-width="1.7" stroke-linejoin="round"/>
<path d="M753.8,418.7 L767.3,429.2 L780.8,440.8 L793.3,453.3" fill="none" stroke="#111" stroke-width="3.6" stroke-linejoin="round"/>
<path d="M753.8,418.7 L767.3,429.2 L780.8,440.8 L793.3,453.3" fill="none" stroke="#fff" stroke-width="1.7" stroke-linejoin="round"/>
<path d="M752.9,420.6 L763.5,433 L774,445.6 L786.5,461" fill="none" stroke="#111" stroke-width="3.6" stroke-linejoin="round"/>
<path d="M752.9,420.6 L763.5,433 L774,445.6 L786.5,461" fill="none" stroke="#fff" stroke-width="1.7" stroke-linejoin="round"/>
<path d="M751.9,421.5 L759.6,435 L769.2,451.3 L777,464.8" fill="none" stroke="#111" stroke-width="3.6" stroke-linejoin="round"/>
<path d="M751.9,421.5 L759.6,435 L769.2,451.3 L777,464.8" fill="none" stroke="#fff" stroke-width="1.7" stroke-linejoin="round"/>
<line x1="802.90" y1="444.60" x2="807.70" y2="450.40" stroke="#111" stroke-width="2.8"/>
<line x1="795.20" y1="451.20" x2="800.00" y2="457.10" stroke="#111" stroke-width="2.8"/>
<line x1="787.50" y1="459.00" x2="792.30" y2="464.80" stroke="#111" stroke-width="2.8"/>
<line x1="779.80" y1="465.70" x2="784.60" y2="471.50" stroke="#111" stroke-width="2.8"/>
<line x1="527.60" y1="87.00" x2="527.60" y2="266.50" stroke="#111" stroke-width="1"/>
<line x1="537.50" y1="87.00" x2="537.50" y2="266.50" stroke="#111" stroke-width="1"/>
<line x1="553.60" y1="67.10" x2="553.60" y2="266.50" stroke="#111" stroke-width="1"/>
<line x1="561.30" y1="67.10" x2="561.30" y2="266.50" stroke="#111" stroke-width="1"/>
<line x1="470.90" y1="87.00" x2="551.40" y2="87.00" stroke="#111" stroke-width="1"/>
<polygon points="527.60,87.00 520.10,88.70 520.10,85.30" fill="#111" stroke="#111" stroke-width="0.5"/>
<polygon points="537.50,87.00 545.00,85.30 545.00,88.70" fill="#111" stroke="#111" stroke-width="0.5"/>
<line x1="497.80" y1="67.10" x2="575.70" y2="67.10" stroke="#111" stroke-width="1"/>
<polygon points="553.60,67.10 546.10,68.80 546.10,65.40" fill="#111" stroke="#111" stroke-width="0.5"/>
<polygon points="561.30,67.10 568.80,65.40 568.80,68.80" fill="#111" stroke="#111" stroke-width="0.5"/>
<circle cx="484.60" cy="59.10" r="8.70" fill="none" stroke="#111" stroke-width="1.0"/>
<text transform="translate(484.60,64.90) scale(0.8,1)" font-size="16" text-anchor="middle" font-weight="normal" stroke="#111" stroke-width="0.7">3</text>
<circle cx="458.00" cy="80.10" r="8.80" fill="none" stroke="#111" stroke-width="1.0"/>
<text transform="translate(458.00,86.00) scale(0.8,1)" font-size="16" text-anchor="middle" font-weight="normal" stroke="#111" stroke-width="0.7">2</text>
<text transform="translate(497.80,65.20) scale(0.8,1)" font-size="16" text-anchor="start" font-weight="normal" stroke="#111" stroke-width="0.7">M5 (4x)</text>
<text transform="translate(470.90,86.20) scale(0.8,1)" font-size="16" text-anchor="start" font-weight="normal" stroke="#111" stroke-width="0.7">M6 (4x)</text>
<line x1="557.30" y1="266.50" x2="557.30" y2="447.00" stroke="#111" stroke-width="1"/>
<line x1="646.10" y1="266.50" x2="646.10" y2="447.00" stroke="#111" stroke-width="1"/>
<line x1="557.30" y1="444.30" x2="646.10" y2="444.30" stroke="#111" stroke-width="1"/>
<polygon points="557.80,444.30 565.30,442.60 565.30,446.00" fill="#111" stroke="#111" stroke-width="0.5"/>
<polygon points="645.60,444.30 638.10,446.00 638.10,442.60" fill="#111" stroke="#111" stroke-width="0.5"/>
<line x1="532.70" y1="266.50" x2="532.70" y2="467.00" stroke="#111" stroke-width="1"/>
<line x1="670.60" y1="266.50" x2="670.60" y2="467.00" stroke="#111" stroke-width="1"/>
<line x1="532.70" y1="464.50" x2="670.60" y2="464.50" stroke="#111" stroke-width="1"/>
<polygon points="533.20,464.50 540.70,462.80 540.70,466.20" fill="#111" stroke="#111" stroke-width="0.5"/>
<polygon points="670.10,464.50 662.60,466.20 662.60,462.80" fill="#111" stroke="#111" stroke-width="0.5"/>
<text transform="translate(595.50,441.80) scale(0.8,1)" font-size="16" text-anchor="middle" font-weight="normal" stroke="#111" stroke-width="0.7">Ø58</text>
<text transform="translate(617.50,441.30) scale(0.8,1)" font-size="9" text-anchor="middle" font-weight="bold" stroke="#111" stroke-width="0.5">±0.2</text>
<text transform="translate(596.50,462.50) scale(0.8,1)" font-size="16" text-anchor="middle" font-weight="normal" stroke="#111" stroke-width="0.7">Ø90</text>
<text transform="translate(618.50,462.00) scale(0.8,1)" font-size="9" text-anchor="middle" font-weight="bold" stroke="#111" stroke-width="0.5">±0.2</text>
<path d="M752,417 Q767.2,427.0 782,429" fill="none" stroke="#111" stroke-width="1" />
<path d="M752,417 Q765.6,432.0 778,439" fill="none" stroke="#111" stroke-width="1" />
<path d="M752,417 Q763.2,437.0 772,449" fill="none" stroke="#111" stroke-width="1" />
<path d="M752,417 Q761.96,441.85 768.9,458.7" fill="none" stroke="#111" stroke-width="1" />
<line x1="751.00" y1="418.70" x2="707.00" y2="460.40" stroke="#111" stroke-width="1"/>
<line x1="677.00" y1="458.80" x2="736.50" y2="520.20" stroke="#111" stroke-width="1"/>
<polygon points="736.50,520.20 730.06,516.00 732.50,513.63" fill="#111" stroke="#111" stroke-width="0.5"/>
<line x1="708.00" y1="460.40" x2="751.90" y2="505.30" stroke="#111" stroke-width="1"/>
<polygon points="708.00,460.40 714.46,464.57 712.04,466.95" fill="#111" stroke="#111" stroke-width="0.5"/>
<polygon points="751.90,505.30 745.44,501.13 747.86,498.75" fill="#111" stroke="#111" stroke-width="0.5"/>
<line x1="785.60" y1="472.50" x2="736.50" y2="520.60" stroke="#111" stroke-width="1"/>
<line x1="777.90" y1="465.80" x2="760.60" y2="483.10" stroke="#111" stroke-width="1"/>
<line x1="744.20" y1="467.70" x2="776.00" y2="500.40" stroke="#111" stroke-width="1"/>
<polygon points="760.60,484.00 754.16,479.80 756.60,477.43" fill="#111" stroke="#111" stroke-width="0.5"/>
<polygon points="766.30,490.80 772.74,495.00 770.30,497.37" fill="#111" stroke="#111" stroke-width="0.5"/>
<text transform="translate(695.30,473.80) rotate(45) scale(0.8,1)" font-size="16" text-anchor="middle" font-weight="normal" stroke="#111" stroke-width="0.7">600</text>
<text transform="translate(711.50,479.30) rotate(45) scale(0.8,1)" font-size="9" text-anchor="middle" font-weight="bold" stroke="#111" stroke-width="0.5">+20</text>
<text transform="translate(726.50,478.00) rotate(45) scale(0.8,1)" font-size="16" text-anchor="middle" font-weight="normal" stroke="#111" stroke-width="0.7">85</text>
<text transform="translate(739.20,485.60) rotate(45) scale(0.8,1)" font-size="9" text-anchor="middle" font-weight="bold" stroke="#111" stroke-width="0.5">±10</text>
<text transform="translate(748.90,468.80) rotate(45) scale(0.8,1)" font-size="16" text-anchor="middle" font-weight="normal" stroke="#111" stroke-width="0.7">6</text>
<circle cx="805.80" cy="470.60" r="8.50" fill="none" stroke="#111" stroke-width="1.1"/>
<text transform="translate(805.80,476.40) scale(0.8,1)" font-size="16" text-anchor="middle" font-weight="normal" stroke="#111" stroke-width="0.7">4</text>
</svg></body></html>
